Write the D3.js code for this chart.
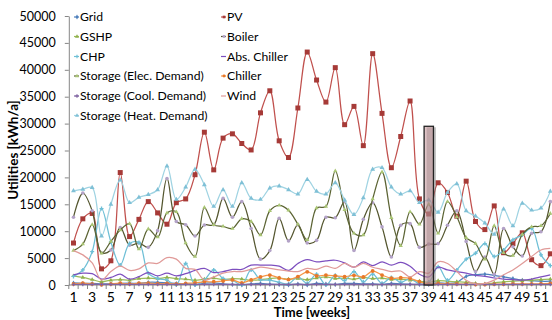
<!DOCTYPE html>
<html>
<head>
<meta charset="utf-8">
<script src="https://cdn.jsdelivr.net/npm/d3@7"></script>
<style>
  body { margin: 0; background: #fff; }
  svg { display: block; font-family: Lato, "Open Sans", sans-serif; }
</style>
</head>
<body>
<div id="chart"></div>
<script>
// weeks 1..52
const weeks = d3.range(1, 53);
const yTicks = [0, 5000, 10000, 15000, 20000, 25000, 30000, 35000, 40000, 45000, 50000];

const grid = [400, 300, 300, 200, 200, 300, 350, 300, 500, 500, 400, 300, 200, 100, 300, 400, 200, 100, 0, 200,
  300, 150, 100, 0, 200, 0, 300, 200, 100, 300, 300, 200, 200, 100, 300, 200, 150, 100, 100, 400,
  300, 500, 1600, 1900, 2000, 1800, 1500, 1200, 900, 800, 700, 700];
const pv = [7800, 12300, 13300, 3000, 4500, 20900, 9000, 12200, 15500, 13400, 11300, 15300, 16000, 20500, 28400, 21400, 27300, 28100, 26300, 25100,
  32000, 36100, 26800, 23700, 32900, 43300, 38100, 34000, 40400, 29800, 33200, 25900, 43000, 31900, 21800, 27600, 34200, 16000, 13200, 19000,
  17200, 12800, 19300, 11800, 10300, 14700, 6000, 7700, 9700, 4700, 3600, 5800];
const gshp = [1700, 1400, 1000, 600, 900, 1000, 900, 1200, 1300, 1200, 1400, 1200, 1100, 900, 1100, 1300, 1000, 1200, 1100, 900,
  1000, 1200, 1300, 1100, 1200, 1000, 1300, 1500, 1200, 1300, 1100, 1400, 1200, 1300, 1000, 1100, 900, 700, 500, 800,
  700, 600, 500, 300, 200, 400, 600, 700, 800, 900, 1000, 1100];
const boiler = [12600, 17100, 13800, 6000, 6500, 10700, 7400, 7800, 7000, 10100, 19800, 11800, 11200, 9100, 11150, 11200, 16100, 12600, 15500, 10500,
  4800, 6400, 12400, 8200, 11200, 7800, 8300, 12600, 12500, 15500, 6400, 12200, 15300, 10800, 5200, 11100, 11400, 7000, 7600, 7700,
  11100, 13800, 8100, 2500, 5200, 2000, 10500, 7100, 5400, 9600, 9900, 15500];
const chp = [1600, 2800, 6200, 14200, 8000, 3700, 7700, 7900, 2200, 1200, 900, 0, 4000, 0, 900, 2800, 1200, 900, 0, 2800,
  1000, 900, 500, 200, 1500, 300, 2000, 0, 1800, 800, 2500, 600, 2000, 300, 1400, 500, 1200, 200, 500, 3400,
  900, 2800, 4800, 5900, 7700, 5300, 6500, 8400, 9300, 10500, 5600, 3600];
const absChiller = [1900, 2200, 2100, 1100, 1400, 2000, 1100, 1550, 2300, 1700, 2200, 1700, 2100, 2700, 3100, 2300, 2500, 2900, 2900, 3700,
  3700, 3700, 3500, 2700, 4000, 4700, 4300, 4500, 4600, 4100, 3300, 4300, 3600, 4300, 3700, 4200, 3500, 2000, 1500, 3300,
  2800, 2500, 2200, 1800, 1600, 1300, 1100, 1000, 900, 1100, 1500, 1900];
const storElec = [6400, 7600, 11200, 5900, 8100, 10200, 11400, 6700, 10400, 8900, 13400, 13600, 7800, 5300, 14400, 11200, 10900, 10500, 12300, 11800,
  9300, 13800, 14800, 13900, 11300, 8400, 14300, 14600, 21200, 14000, 9600, 9300, 16000, 21000, 12500, 7300, 13600, 11300, 15000, 9600,
  15500, 12700, 8800, 7700, 4800, 11000, 6000, 5500, 9400, 10800, 11000, 13300];
const chiller = [200, 350, 200, 50, 200, 350, 200, 350, 350, 250, 300, 200, 300, 400, 600, 600, 750, 950, 400, 950,
  1500, 1850, 1300, 1000, 1550, 2450, 1700, 1850, 1700, 1550, 1800, 1500, 2600, 1850, 1250, 1350, 1250, 600, 200, 300,
  200, 200, 150, 100, 100, 150, 150, 200, 200, 200, 250, 300];
const storCool = [100, 100, 100, 100, 100, 100, 100, 100, 100, 100, 100, 100, 100, 100, 100, 100, 100, 100, 100, 100,
  100, 100, 100, 100, 100, 100, 100, 100, 100, 100, 100, 100, 100, 100, 100, 100, 100, 100, 100, 100,
  100, 100, 100, 100, 100, 100, 100, 100, 100, 100, 100, 100];
const wind = [6400, 5600, 4100, 900, 2500, 3500, 2700, 3000, 4100, 4000, 5100, 4800, 3100, 2900, 900, 1500, 2200, 2500, 2500, 2900,
  3300, 3100, 2800, 2600, 2500, 3100, 2900, 3500, 3100, 4000, 3300, 4000, 3300, 2900, 2500, 2600, 1500, 2500, 2200, 4300,
  4000, 2500, 900, 200, 300, 900, 1900, 2800, 4000, 5300, 6500, 6800];
const storHeat = [17500, 17800, 18100, 9100, 15000, 19500, 15300, 16300, 16800, 17700, 22100, 15900, 18200, 21500, 18600, 14600, 17700, 14600, 19000, 16100,
  15900, 18000, 18400, 17700, 16900, 19600, 17400, 16900, 19000, 15800, 13100, 16200, 21500, 21800, 18200, 16900, 17500, 15300, 15800, 13500,
  17200, 18800, 13800, 12800, 11500, 9400, 14100, 11000, 15200, 13900, 14300, 17400];

const highlightWeek = 39;
const highlightValue = 29500;

// series in excel order (legend is filled row by row)
const series = [
  { name: 'Grid', values: grid, line: '#4f81bd', marker: '#4f81bd', shape: 'diamond', size: 2.6 },
  { name: 'PV', values: pv, line: '#c0504d', marker: '#a63a37', shape: 'square', size: 5 },
  { name: 'GSHP', values: gshp, line: '#9bbb59', marker: '#8fb04c', shape: 'triangle', size: 2.8 },
  { name: 'Boiler', values: boiler, line: '#54562f', marker: '#b3a2c7', shape: 'circle', size: 3.2 },
  { name: 'CHP', values: chp, line: '#6ebfd6', marker: '#6ebfd6', shape: 'star', size: 3 },
  { name: 'Abs. Chiller', values: absChiller, line: '#7d4fbf', marker: null },
  { name: 'Storage (Elec. Demand)', values: storElec, line: '#5c6434', marker: '#a9c574', shape: 'triangle', size: 2.8 },
  { name: 'Chiller', values: chiller, line: '#f79646', marker: '#e8782a', shape: 'circle', size: 3.4 },
  { name: 'Storage (Cool. Demand)', values: storCool, line: '#8064a2', marker: '#8064a2', shape: 'star', size: 2.6 },
  { name: 'Wind', values: wind, line: '#e09a98', marker: null },
  { name: 'Storage (Heat. Demand)', values: storHeat, line: '#9fd3e2', marker: '#7fc0d6', shape: 'triangle', size: 3.2 }
];

const width = 552, height = 320;
const svg = d3.select('#chart').append('svg')
  .attr('width', width)
  .attr('height', height);

const x = d3.scaleBand().domain(weeks).range([68.8, 555]).padding(0);
const cx = w => x(w) + x.bandwidth() / 2;
const y = d3.scaleLinear().domain([0, 50000]).range([285, 16]);

// y axis
const yAxis = svg.append('g')
  .attr('transform', `translate(${x.range()[0]},0)`)
  .call(d3.axisLeft(y).tickValues(yTicks).tickSize(4).tickSizeOuter(0).tickFormat(d3.format('d')));
yAxis.select('.domain').attr('stroke', '#868686');
yAxis.selectAll('.tick line').attr('stroke', '#868686');
yAxis.selectAll('.tick text').attr('x', -13).attr('font-size', 12.5).attr('fill', '#000').attr('font-family', 'Lato');

// x axis: ticks between categories, labels on odd weeks
const xAxisG = svg.append('g').attr('transform', 'translate(0,285)');
xAxisG.append('line')
  .attr('x1', x.range()[0]).attr('x2', x.range()[1])
  .attr('stroke', '#868686');
xAxisG.selectAll('.xt').data(weeks).enter().append('line')
  .attr('x1', d => x(d)).attr('x2', d => x(d))
  .attr('y1', 0).attr('y2', 4)
  .attr('stroke', '#868686');
xAxisG.selectAll('text').data(weeks.filter(w => w % 2 === 1)).enter().append('text')
  .attr('x', d => cx(d))
  .attr('y', 17)
  .attr('text-anchor', 'middle')
  .attr('font-size', 14)
  .text(d => d);

// axis titles
svg.append('text')
  .attr('x', 312).attr('y', 317)
  .attr('text-anchor', 'middle')
  .attr('font-weight', 'bold')
  .attr('font-size', 13)
  .text('Time [weeks]');
svg.append('text')
  .attr('transform', 'translate(18,150) rotate(-90)')
  .attr('text-anchor', 'middle')
  .attr('font-weight', 'bold')
  .attr('font-size', 13.5)
  .text('Utilities [kWh/a]');

// lines
const line = d3.line()
  .x((d, i) => cx(weeks[i]))
  .y(d => y(d))
  .curve(d3.curveCatmullRom.alpha(0.5));

const symbolType = {
  diamond: d3.symbolDiamond, square: d3.symbolSquare, triangle: d3.symbolTriangle,
  circle: d3.symbolCircle, star: d3.symbolCross
};

const plot = svg.append('g').attr('class', 'plot');
series.forEach(s => {
  const g = plot.append('g');
  g.append('path')
    .attr('d', line(s.values))
    .attr('fill', 'none')
    .attr('stroke', s.line)
    .attr('stroke-width', 1.25);
  if (s.marker) {
    const sym = d3.symbol().type(symbolType[s.shape]).size(s.size * s.size);
    g.selectAll('path.m').data(s.values).enter().append('path')
      .attr('class', 'm')
      .attr('d', sym)
      .attr('transform', (d, i) => `translate(${cx(weeks[i])},${y(d)})`)
      .attr('fill', s.marker);
  }
});

// highlighted week
const hx = x(highlightWeek);
svg.append('rect')
  .attr('x', hx + 2.5).attr('y', y(highlightValue) + 1)
  .attr('width', x.bandwidth()).attr('height', y(0) - y(highlightValue))
  .attr('fill', '#777').attr('opacity', 0.45);
svg.append('rect')
  .attr('x', hx).attr('y', y(highlightValue))
  .attr('width', x.bandwidth()).attr('height', y(0) - y(highlightValue))
  .attr('fill', '#c08a90').attr('fill-opacity', 0.5)
  .attr('stroke', '#222').attr('stroke-width', 1.3);

// legend, two columns filled row by row
const legendRows = [17, 36.5, 56.5, 76, 96, 115.5];
const legendCols = [77, 224];
const legend = svg.append('g').attr('class', 'legend');
series.forEach((s, i) => {
  const lx = legendCols[i % 2];
  const ly = legendRows[Math.floor(i / 2)];
  const g = legend.append('g').attr('transform', `translate(${lx},${ly})`);
  g.append('line')
    .attr('x1', -3).attr('x2', 2)
    .attr('stroke', s.line).attr('stroke-width', 1.2);
  if (s.marker) {
    g.append('path')
      .attr('d', d3.symbol().type(symbolType[s.shape]).size(7)())
      .attr('fill', s.marker);
  }
  g.append('text')
    .attr('x', 3)
    .attr('dy', '0.36em')
    .attr('font-size', 12.2)
    .text(s.name);
});
</script>
</body>
</html>
